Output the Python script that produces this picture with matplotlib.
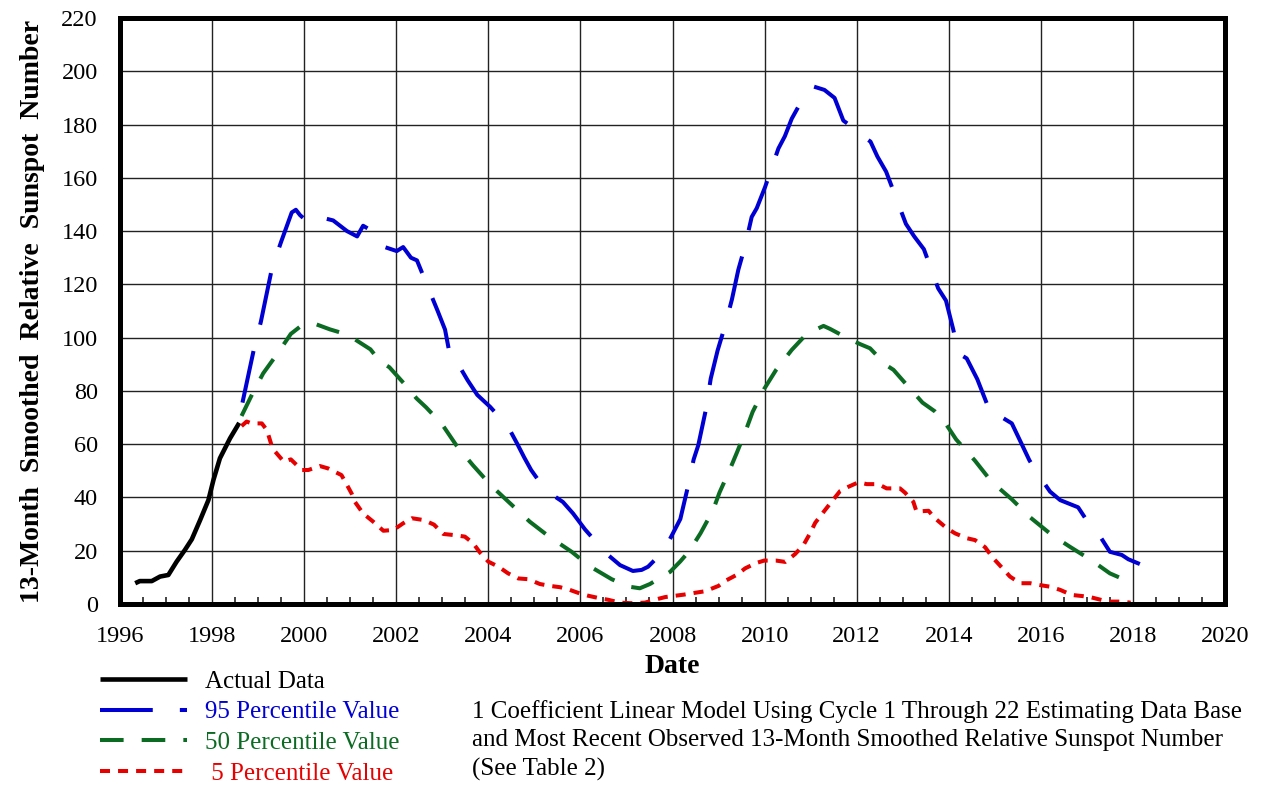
import matplotlib
matplotlib.use('Agg')
import matplotlib.pyplot as plt
from matplotlib.ticker import MultipleLocator

plt.rcParams['font.family'] = ['Liberation Serif', 'DejaVu Serif']
plt.rcParams['lines.scale_dashes'] = False

# actual 13-month smoothed sunspot numbers
actual_x = [1996.33, 1996.43, 1996.69, 1996.87, 1997.05, 1997.23, 1997.41, 1997.56,
            1997.74, 1997.92, 1998.03, 1998.17, 1998.39, 1998.59]
actual_y = [7.8, 8.6, 8.6, 10.3, 10.9, 15.9, 20.3, 24.3, 31.5, 39.0, 46.6, 54.7, 62.2, 68.0]

# 95 percentile prediction
p95_x = [1998.66, 1998.90, 1999.06, 1999.30, 1999.50, 1999.73, 1999.82, 1999.91, 2000.04,
         2000.19, 2000.40, 2000.63, 2000.93, 2001.15, 2001.28, 2001.38, 2001.50, 2001.75,
         2002.01, 2002.15, 2002.32, 2002.45, 2002.58, 2002.71, 2002.90, 2003.06, 2003.17,
         2003.24, 2003.38, 2003.55, 2003.76, 2004.04, 2004.30, 2004.43, 2004.62, 2004.78,
         2004.93, 2005.23, 2005.45, 2005.62, 2005.84, 2006.10, 2006.34, 2006.60, 2006.86,
         2007.14, 2007.33, 2007.47, 2007.70, 2007.93, 2008.17, 2008.33, 2008.46, 2008.56,
         2008.73, 2008.83, 2008.98, 2009.14, 2009.29, 2009.43, 2009.58, 2009.72, 2009.83,
         2010.01, 2010.18, 2010.30, 2010.44, 2010.59, 2010.84, 2011.06, 2011.30, 2011.52,
         2011.71, 2011.86, 2012.07, 2012.30, 2012.45, 2012.64, 2013.07, 2013.25, 2013.46,
         2013.77, 2013.94, 2014.10, 2014.21, 2014.39, 2014.62, 2014.86, 2014.97, 2015.19,
         2015.37, 2015.61, 2015.75, 2015.90, 2016.20, 2016.42, 2016.81, 2017.05, 2017.29,
         2017.50, 2017.76, 2017.90, 2018.15]
p95_y = [75.6, 95.0, 106.0, 126.0, 136.0, 147.0, 148.0, 146.0, 144.0,
         146.0, 145.0, 144.0, 140.0, 138.0, 142.0, 141.0, 137.0, 134.0,
         132.5, 134.0, 130.0, 129.0, 123.5, 118.0, 110.0, 103.0, 93.0,
         90.5, 89.0, 84.0, 78.5, 74.0, 69.0, 66.5, 60.4, 55.0,
         50.3, 43.0, 40.3, 38.3, 34.0, 28.0, 23.3, 18.4, 14.6,
         12.4, 12.8, 14.0, 18.0, 23.9, 31.9, 43.7, 54.3, 59.6,
         73.4, 84.6, 95.2, 104.4, 114.3, 125.5, 134.7, 145.3, 148.6,
         156.5, 165.0, 171.0, 175.6, 182.2, 190.0, 194.3, 193.0, 190.0,
         181.5, 179.6, 176.3, 173.6, 168.0, 162.3, 142.7, 138.0, 133.2,
         118.5, 113.9, 102.9, 94.1, 92.2, 84.4, 73.8, 69.7, 69.7,
         67.8, 59.1, 54.0, 49.7, 42.2, 39.0, 36.3, 30.0, 25.3,
         19.6, 18.4, 16.8, 15.0]

# 50 percentile prediction
p50_x = [1998.64, 1998.88, 1999.11, 1999.44, 1999.71, 1999.91, 2000.20, 2000.56, 2000.85,
         2001.07, 2001.44, 2001.65, 2001.85, 2002.23, 2002.44, 2002.65, 2002.99, 2003.30,
         2003.66, 2004.07, 2004.46, 2004.90, 2005.32, 2005.81, 2006.19, 2006.68, 2007.06,
         2007.29, 2007.51, 2007.95, 2008.17, 2008.37, 2008.61, 2008.88, 2009.02, 2009.24,
         2009.40, 2009.60, 2009.74, 2009.99, 2010.25, 2010.59, 2010.92, 2011.28, 2011.42,
         2011.80, 2012.07, 2012.29, 2012.64, 2012.80, 2013.07, 2013.43, 2013.70, 2013.88,
         2014.16, 2014.57, 2014.93, 2015.37, 2015.77, 2016.24, 2016.63, 2017.10, 2017.50,
         2017.99]
p50_y = [70.6, 79.1, 86.6, 94.5, 101.4, 104.1, 105.4, 103.1, 101.6,
         99.7, 95.6, 91.0, 88.9, 81.6, 77.2, 73.8, 67.6, 59.7,
         52.2, 44.3, 38.0, 30.9, 25.3, 19.6, 14.3, 9.3, 6.5,
         5.9, 7.5, 12.1, 16.0, 20.0, 26.6, 35.2, 41.8, 50.3,
         56.9, 65.5, 72.1, 80.7, 87.9, 95.4, 101.5, 104.4, 103.3,
         99.8, 97.6, 96.0, 89.7, 87.9, 82.6, 75.6, 72.3, 69.1,
         61.8, 53.8, 45.9, 39.3, 32.5, 25.9, 21.5, 16.4, 11.5,
         7.8]

# 5 percentile prediction
p5_x = [1998.64, 1998.75, 1998.86, 1999.08, 1999.19, 1999.29, 1999.37, 1999.56, 1999.71,
        1999.95, 2000.09, 2000.34, 2000.52, 2000.81, 2000.92, 2001.03, 2001.10, 2001.28,
        2001.50, 2001.72, 2001.94, 2002.15, 2002.34, 2002.60, 2002.82, 2003.02, 2003.24,
        2003.49, 2003.67, 2003.82, 2004.00, 2004.22, 2004.43, 2004.65, 2004.87, 2005.12,
        2005.34, 2005.56, 2005.77, 2005.98, 2006.17, 2006.43, 2006.60, 2006.86, 2007.10,
        2007.40, 2007.66, 2007.84, 2008.06, 2008.24, 2008.49, 2008.71, 2009.00, 2009.16,
        2009.40, 2009.58, 2009.82, 2009.99, 2010.25, 2010.45, 2010.66, 2010.84, 2010.99,
        2011.10, 2011.31, 2011.46, 2011.64, 2011.82, 2012.04, 2012.22, 2012.47, 2012.65,
        2012.94, 2013.05, 2013.23, 2013.30, 2013.56, 2013.70, 2013.96, 2014.14, 2014.39,
        2014.57, 2014.79, 2014.95, 2015.19, 2015.33, 2015.55, 2015.77, 2015.98, 2016.20,
        2016.42, 2016.67, 2016.89, 2017.07, 2017.32, 2017.50, 2017.76, 2017.95]
p5_y = [66.8, 68.5, 67.8, 67.8, 65.3, 59.7, 57.2, 53.4, 54.3,
        50.3, 50.3, 51.8, 50.9, 48.4, 45.0, 41.5, 38.4, 34.0,
        30.9, 27.5, 27.8, 30.3, 32.2, 31.5, 29.8, 26.3, 25.9,
        25.3, 22.8, 19.3, 15.9, 14.0, 11.5, 9.6, 9.3, 7.5,
        6.8, 6.3, 5.3, 4.0, 3.1, 2.1, 1.6, 0.5, 0.3,
        0.5, 1.8, 2.6, 3.1, 3.5, 4.2, 4.8, 6.8, 8.8,
        11.0, 13.4, 15.4, 16.3, 16.3, 15.8, 18.7, 22.0, 26.6,
        30.5, 35.2, 38.5, 42.4, 44.0, 45.7, 45.0, 45.0, 43.4,
        43.4, 41.8, 38.4, 34.7, 35.0, 32.2, 28.4, 26.5, 24.7,
        24.0, 21.3, 17.5, 13.0, 10.3, 7.8, 7.8, 7.1, 6.5,
        5.3, 3.4, 3.0, 2.6, 1.5, 0.9, 0.9, 0.5]

blue = '#0000D2'
green = '#0B6B23'
red = '#E60000'

fig = plt.figure(figsize=(12.61, 7.85), dpi=100)
ax = fig.add_axes([120 / 1261, 1 - 604 / 785, 1105 / 1261, 586 / 785])

lw = 2.9
ax.plot(actual_x, actual_y, color='black', lw=3.3, solid_capstyle='butt',
        label='Actual Data', zorder=3)
ax.plot(p95_x, p95_y, color=blue, lw=lw, dashes=(38, 19.5), dash_capstyle='butt',
        label='95 Percentile Value', zorder=3)
ax.plot(p50_x, p50_y, color=green, lw=lw, dashes=(17, 13), dash_capstyle='butt',
        label='50 Percentile Value', zorder=3)
ax.plot(p5_x, p5_y, color=red, lw=lw, dashes=(7.2, 5.8), dash_capstyle='butt',
        label=' 5 Percentile Value', zorder=3)

ax.set_xlim(1996, 2020)
ax.set_ylim(0, 220)
ax.xaxis.set_major_locator(MultipleLocator(2))
ax.xaxis.set_minor_locator(MultipleLocator(0.5))
ax.yaxis.set_major_locator(MultipleLocator(20))
ax.grid(True, which='major', color='#222222', lw=1.0, zorder=1)
ax.tick_params(axis='both', which='major', direction='in', length=0, labelsize=17.5)
ax.tick_params(axis='y', which='major', pad=16)
ax.tick_params(axis='x', which='major', pad=16)
ax.tick_params(axis='x', which='minor', direction='in', length=5, width=1.2, color='#222222')
for s in ax.spines.values():
    s.set_linewidth(3.6)
    s.set_zorder(4)

ax.set_xlabel('Date', fontsize=20, fontweight='bold', labelpad=5)
ax.set_ylabel('13-Month  Smoothed  Relative  Sunspot  Number', fontsize=20,
              fontweight='bold', labelpad=12)

leg = fig.legend(loc='upper left', bbox_to_anchor=(100 / 1261, 1 - 670 / 785),
                 frameon=False, fontsize=18, handlelength=3.48, handletextpad=0.72,
                 labelspacing=0.33, borderpad=0, borderaxespad=0)
for txt, c in zip(leg.get_texts(), ['black', blue, green, red]):
    txt.set_color(c)

fig.text(472 / 1261, 1 - 700 / 785,
         '1 Coefficient Linear Model Using Cycle 1 Through 22 Estimating Data Base\n'
         'and Most Recent Observed 13-Month Smoothed Relative Sunspot Number\n'
         '(See Table 2)', fontsize=18, va='top', ha='left', linespacing=1.38)

fig.savefig('out.png', dpi=100)
